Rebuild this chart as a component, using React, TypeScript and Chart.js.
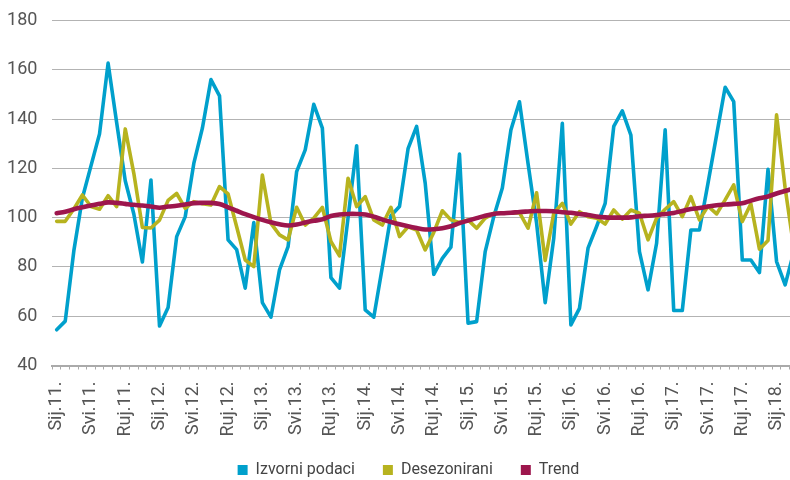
import React, { useEffect, useRef } from 'react';
import { Chart, registerables } from 'chart.js';

Chart.register(...registerables);

const MONTHS = ['Sij', 'Velj', 'Ožu', 'Tra', 'Svi', 'Lip', 'Srp', 'Kol', 'Ruj', 'Lis', 'Stu', 'Pro'];
const YEARS = ['11', '12', '13', '14', '15', '16', '17', '18'];
const N_POINTS = 87; // Sij.11. – Ožu.18.
const CATEGORIES = YEARS.flatMap((y) => MONTHS.map((m) => `${m}.${y}.`)).slice(0, N_POINTS);

const SERIES_NAMES = ['Izvorni podaci', 'Desezonirani', 'Trend'];

const izvorni = [
  54.5, 58, 86.5, 108, 121, 134, 162.7, 138.5, 115, 101.5, 82, 115.3,
  56, 63.5, 92.3, 100.4, 122, 136.3, 156, 149.4, 91, 87, 71.4, 98,
  65.5, 59.6, 78.8, 88.2, 118.7, 127.5, 146, 136.3, 75.7, 71.4, 100, 129.2,
  62.6, 59.6, 80, 100.8, 104.5, 128, 137, 114, 77, 83.5, 88, 125.8,
  57.2, 57.8, 86.2, 100.4, 112, 135.6, 147, 122, 97.7, 65.5, 91.6, 138.3,
  56.5, 63.2, 87.6, 96.4, 105.8, 137, 143.3, 133.5, 86.2, 70.7, 89.6, 135.6,
  62.3, 62.3, 95, 95, 114, 133.5, 152.9, 147.1, 82.8, 82.8, 77.7, 119.6,
  82.2, 72.7, 86,
];

const desezonirani = [
  98.5, 98.5, 103.5, 109.2, 104.5, 103.4, 108.9, 104.5, 136, 118, 96, 95.8,
  99, 107, 109.8, 103.8, 106.5, 105.6, 105.1, 112.6, 109.6, 96.3, 82.8, 80.1,
  117.3, 97.7, 93, 91, 104.2, 97, 99.8, 104.2, 90.3, 84.5, 116, 104.5,
  108.5, 99.1, 97, 104.2, 92.3, 96.3, 95, 86.9, 94, 102.8, 99.1, 98,
  99.1, 95.7, 99.8, 101.8, 101.8, 101.8, 102, 95.7, 110.1, 82.6, 101.8, 105.8,
  97.4, 102.4, 100.4, 99.8, 97.4, 103.1, 99.4, 103.1, 101.8, 91, 99.8, 103.4,
  106.5, 100.4, 108.5, 99.1, 104.7, 101.5, 107.2, 113.3, 98.4, 105.6, 87.2, 90.7,
  141.7, 112, 88,
];

const trend = [
  101.8, 102.4, 103.4, 104.2, 104.9, 105.6, 106.2, 106, 105.6, 105.2, 104.9, 104.5,
  104, 104.5, 104.8, 105.3, 105.9, 106, 106, 105.5, 104.2, 102.8, 101.4, 100.2,
  99.1, 98.1, 97.3, 96.8, 97.2, 98, 98.7, 99.3, 100.7, 101.3, 101.5, 101.5,
  101.3, 100.4, 99.2, 98.2, 97.3, 96.5, 95.8, 95.2, 95.3, 95.7, 96.5, 97.8,
  98.8, 99.8, 100.8, 101.5, 101.8, 102, 102.3, 102.5, 102.7, 102.7, 102.6, 102.2,
  102, 101.5, 101.1, 100.5, 100.1, 100, 100, 100.1, 100.6, 100.8, 101.1, 101.5,
  101.9, 102.7, 103.5, 103.9, 104.5, 105, 105.3, 105.6, 105.8, 106.9, 107.9, 108.6,
  109.8, 110.8, 111.8,
];

const Y_MIN = 40;
const Y_MAX = 180;
const Y_STEP = 20;

const COLORS = ['#00a0cc', '#b7b31f', '#9d164d'];
const FONT = "Roboto, 'Liberation Sans', sans-serif";

// let tick labels draw outside their axis boxes without being clipped
const unclipLabels = {
  id: 'unclipLabels',
  afterLayout(chart: any) {
    const x = chart.scales.x;
    if (x) x.bottom = chart.height;
    const y = chart.scales.y;
    if (y) y.left = 0;
  },
};

export default function App() {
  const ref = useRef<HTMLCanvasElement>(null);

  useEffect(() => {
    const seriesData = [izvorni, desezonirani, trend];
    const widths = [3.6, 3.6, 4.6];
    const orders = [3, 2, 1];
    const chart = new Chart(ref.current as HTMLCanvasElement, {
      type: 'line',
      data: {
        labels: CATEGORIES,
        datasets: SERIES_NAMES.map((name, i) => ({
          label: name,
          data: seriesData[i],
          borderColor: COLORS[i],
          backgroundColor: COLORS[i],
          borderWidth: widths[i],
          pointRadius: 0,
          tension: i === 2 ? 0.3 : 0,
          borderJoinStyle: 'round' as const,
          borderCapStyle: 'round' as const,
          fill: false,
          order: orders[i],
        })),
      },
      plugins: [unclipLabels],
      options: {
        animation: false,
        responsive: true,
        maintainAspectRatio: false,
        layout: { padding: { top: 12.5, right: 10, left: 11, bottom: 0 } },
        plugins: {
          tooltip: { enabled: false },
          legend: {
            position: 'bottom',
            labels: {
              boxWidth: 10,
              boxHeight: 10,
              padding: 28,
              color: '#444',
              font: { family: FONT, size: 16 },
              sort: (a: any, b: any) => a.datasetIndex - b.datasetIndex,
              generateLabels: (c: any) =>
                Chart.defaults.plugins.legend.labels
                  .generateLabels(c)
                  .map((l: any) => ({ ...l, lineWidth: 0, strokeStyle: l.fillStyle })),
            },
          },
        },
        scales: {
          x: {
            offset: true,
            grid: {
              offset: true,
              drawOnChartArea: false,
              drawTicks: true,
              tickLength: 4,
              color: '#aaaaaa',
              lineWidth: 1,
            },
            border: { display: true, color: '#aaaaaa', width: 2 },
            ticks: {
              autoSkip: false,
              minRotation: 90,
              maxRotation: 90,
              padding: 12,
              color: '#555',
              font: { family: FONT, size: 18 },
              callback: (_v: any, idx: number) => (idx % 4 === 0 ? CATEGORIES[idx] : ''),
            },
            afterFit: (scale: any) => {
              scale.height = 68.5;
              scale.paddingLeft = 0;
              scale.paddingRight = 0;
            },
          },
          y: {
            min: Y_MIN,
            max: Y_MAX,
            grid: { color: '#b3b3b3', lineWidth: 1, drawTicks: false },
            border: { display: false },
            ticks: {
              stepSize: Y_STEP,
              padding: 15,
              color: '#555',
              font: { family: FONT, size: 18 },
            },
            afterFit: (scale: any) => {
              scale.width = 33.4;
              scale.paddingTop = 0;
              scale.paddingBottom = 0;
            },
          },
        },
      },
    });
    return () => chart.destroy();
  }, []);

  return (
    <div
      style={{
        position: 'fixed',
        left: 8,
        top: 8,
        width: 782,
        height: 472,
        overflow: 'hidden',
      }}
    >
      <div style={{ position: 'relative', width: 800, height: 480 }}>
        <canvas ref={ref} />
      </div>
    </div>
  );
}
